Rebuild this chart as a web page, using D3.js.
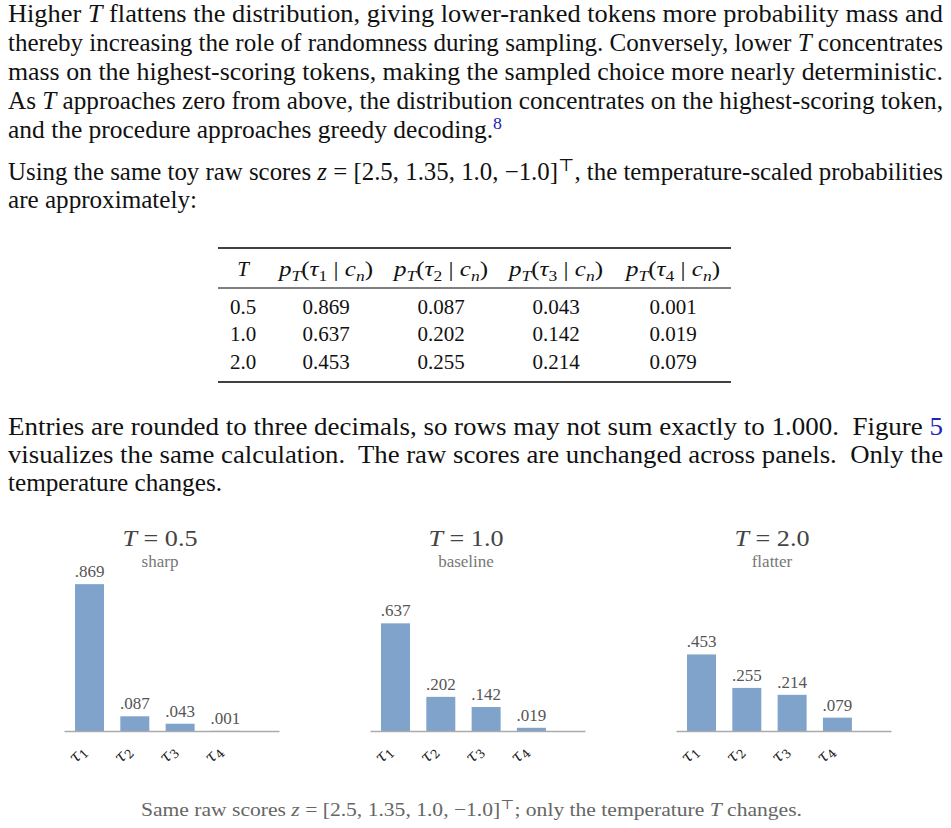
<!DOCTYPE html>
<html><head><meta charset="utf-8">
<script src="https://cdn.jsdelivr.net/npm/d3@7"></script>
<style>html,body{margin:0;padding:0;background:#fff}svg{display:block}</style>
</head><body>
<script>
// ---- data ----
const temperatures = [0.5, 1.0, 2.0];
const temperatureLabels = ["0.5", "1.0", "2.0"];
const tokens = ["τ1", "τ2", "τ3", "τ4"];
const probsT05 = [0.869, 0.087, 0.043, 0.001];
const probsT10 = [0.637, 0.202, 0.142, 0.019];
const probsT20 = [0.453, 0.255, 0.214, 0.079];
const panelNotes = ["sharp", "baseline", "flatter"];
const rawScores = ["2.5", "1.35", "1.0", "−1.0"];

const W = 951, H = 828;
const serif = "'Liberation Serif','DejaVu Serif',serif";
const ink = "#111";
const linkBlue = "#2323b4";

const svg = d3.select("body").append("svg").attr("width", W).attr("height", H)
  .style("font-family", serif);

// render one line of mixed text
function line(segs, x, y, fs, len, opts = {}) {
  const t = svg.append("text").attr("x", x).attr("y", y).attr("font-size", fs)
    .attr("fill", opts.fill || ink).style("white-space", "pre");
  if (opts.anchor) t.attr("text-anchor", opts.anchor);
  if (len) t.attr("textLength", len).attr("lengthAdjust", opts.adjust || "spacingAndGlyphs");
  let shift = 0;
  segs.forEach(s => {
    if (typeof s === "string") s = { t: s };
    const sp = t.append("tspan").text(s.t);
    const target = s.sup ? -fs * 0.38 : s.sub ? fs * 0.22 : 0;
    if (target !== shift) { sp.attr("dy", target - shift); shift = target; }
    if (s.i) sp.attr("font-style", "italic");
    if (s.sup || s.sub) sp.attr("font-size", fs * 0.7);
    if (s.link) sp.attr("fill", linkBlue);
  });
  return t;
}

const zVec = "[" + rawScores.join(", ") + "]";
const BF = 25;
// paragraph 1
line(["Higher ", {t: "T", i: 1}, " flattens the distribution, giving lower-ranked tokens more probability mass and"], 8, 22, BF, 935);
line(["thereby increasing the role of randomness during sampling. Conversely, lower ", {t: "T", i: 1}, " concentrates"], 8, 51, BF, 935);
line(["mass on the highest-scoring tokens, making the sampled choice more nearly deterministic."], 8, 80, BF, 935);
line(["As ", {t: "T", i: 1}, " approaches zero from above, the distribution concentrates on the highest-scoring token,"], 8, 109, BF, 935);
line(["and the procedure approaches greedy decoding.", {t: "8", sup: 1, link: 1}], 8, 138, BF, 494);
// paragraph 2
line(["Using the same toy raw scores ", {t: "z", i: 1}, " = " + zVec, {t: "⊤", sup: 1}, ", the temperature-scaled probabilities"], 8, 180, BF, 935);
line(["are approximately:"], 8, 208, BF, 189);

// ---- table ----
const TF = 21;
const tx0 = 218, tx1 = 731;
const colX = [243, 326, 441, 556, 673];
svg.append("line").attr("x1", tx0).attr("x2", tx1).attr("y1", 248).attr("y2", 248).attr("stroke", "#000").attr("stroke-width", 1.6);
svg.append("line").attr("x1", tx0).attr("x2", tx1).attr("y1", 288).attr("y2", 288).attr("stroke", "#000").attr("stroke-width", 1);
svg.append("line").attr("x1", tx0).attr("x2", tx1).attr("y1", 382).attr("y2", 382).attr("stroke", "#000").attr("stroke-width", 1.6);
line([{t: "T", i: 1}], colX[0], 276, TF, null, {anchor: "middle"});
tokens.forEach((tk, k) => {
  line([{t: "p", i: 1}, {t: "T", i: 1, sub: 1}, "(", {t: "τ", i: 1}, {t: tk.slice(1), sub: 1}, " | ", {t: "c", i: 1}, {t: "n", i: 1, sub: 1}, ")"],
    colX[k + 1] - 47, 276, TF, 94);
});
const rows = [probsT05, probsT10, probsT20];
const rowY = d3.scaleLinear().domain([0, 2]).range([313.5, 368.5]);
rows.forEach((r, i) => {
  line([temperatureLabels[i]], colX[0], rowY(i), TF, null, {anchor: "middle"});
  r.forEach((v, k) => line([d3.format(".3f")(v)], colX[k + 1], rowY(i), TF, null, {anchor: "middle"}));
});

// paragraph 3
line(["Entries are rounded to three decimals, so rows may not sum exactly to 1.000.  Figure ", {t: "5", link: 1}], 8, 435, BF, 935);
line(["visualizes the same calculation.  The raw scores are unchanged across panels.  Only the"], 8, 463, BF, 935);
line(["temperature changes."], 8, 491, BF, 214);

// ---- small multiples ----
const panels = temperatures.map((T, i) => ({T, label: temperatureLabels[i], note: panelNotes[i], probs: rows[i]}));
const baseY = 731;
const y = d3.scaleLinear().domain([0, 1]).range([baseY, baseY - 169]);
const fmt = v => d3.format(".3f")(v).replace(/^0/, "");
const barColor = "#7fa3ca";

panels.forEach((p, i) => {
  const x0 = 64 + i * 306;
  const x = d3.scaleBand().domain(tokens).range([x0, x0 + 215])
    .paddingInner(0.36).paddingOuter(0.553).align(0.22);
  const g = svg.append("g");
  // title + note
  line([{t: "T", i: 1}, " = " + p.label], x0 + 96 - 37.5, 546, 24, 75, {fill: "#444"});
  line([p.note], x0 + 96, 567, 17, null, {anchor: "middle", fill: "#777"});
  // bars
  g.selectAll("rect").data(p.probs).join("rect")
    .attr("x", (d, k) => x(tokens[k])).attr("width", x.bandwidth())
    .attr("y", d => y(d)).attr("height", d => baseY - y(d))
    .attr("fill", barColor);
  // value labels
  g.selectAll("text.val").data(p.probs).join("text").attr("class", "val")
    .attr("x", (d, k) => x(tokens[k]) + x.bandwidth() / 2).attr("y", d => y(d) - 7)
    .attr("text-anchor", "middle").attr("font-size", 17).attr("fill", "#555")
    .text(fmt);
  // axis
  const ax = svg.append("g").attr("transform", `translate(0,${baseY})`)
    .call(d3.axisBottom(x).tickSize(0).tickSizeOuter(0));
  ax.attr("font-size", null).attr("font-family", null);
  ax.select(".domain").attr("stroke", "#aaa").attr("stroke-width", 1.5);
  ax.selectAll(".tick text").each(function (d) {
    const t = d3.select(this);
    t.text(null).attr("x", 0).attr("y", 0).attr("dy", null)
      .attr("transform", "translate(-2,21) rotate(-45)")
      .attr("text-anchor", "end").attr("fill", "#222")
      .style("font-family", "'DejaVu Serif',serif").style("font-size", "17px");
    t.append("tspan").style("font-style", "italic").text(d.slice(0, 1));
    t.append("tspan").style("font-size", "12px").attr("dy", 3).text(d.slice(1));
  });
});

// caption
line(["Same raw scores ", {t: "z", i: 1}, " = " + zVec, {t: "⊤", sup: 1}, "; only the temperature ", {t: "T", i: 1}, " changes."],
  141, 816, 19, 661, {fill: "#666"});
</script>
</body></html>
